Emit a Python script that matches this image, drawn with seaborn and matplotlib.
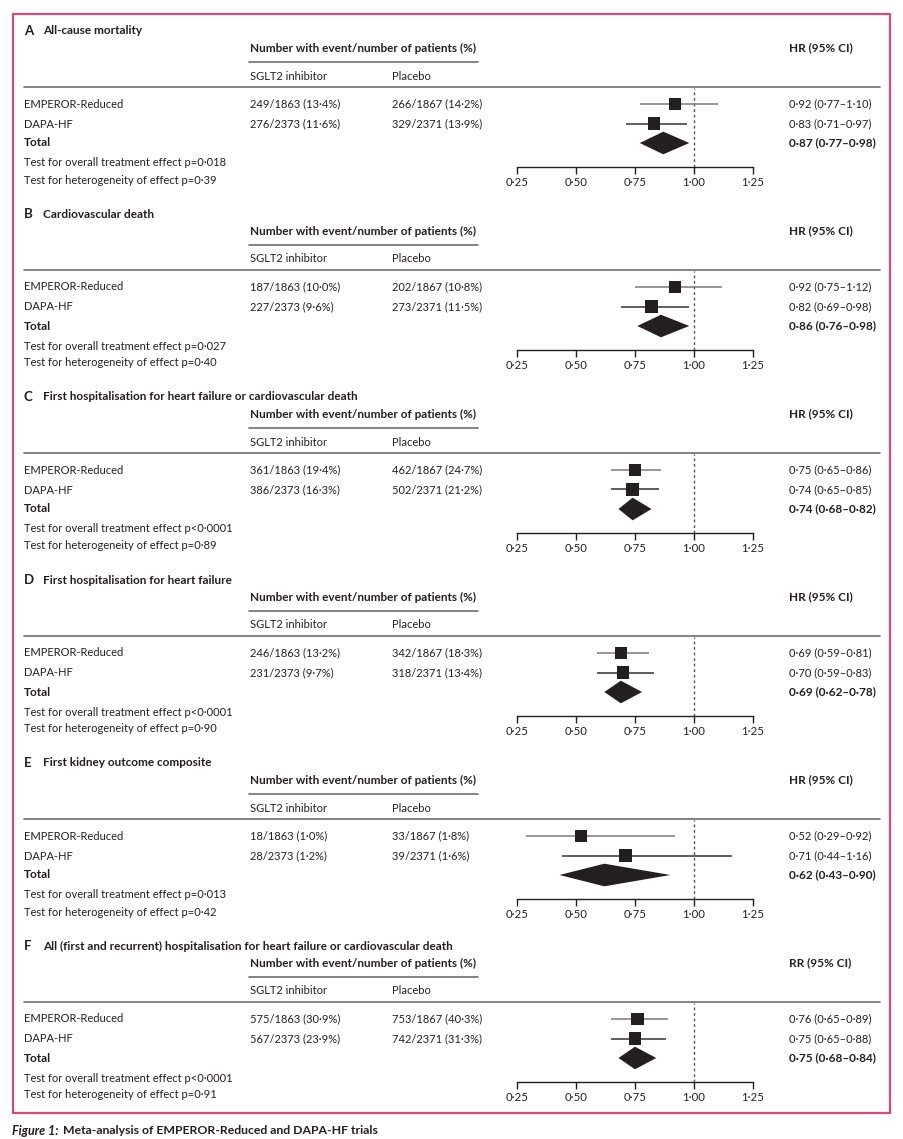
import matplotlib
matplotlib.use("Agg")
import matplotlib.pyplot as plt
import matplotlib.patches as mpatches
from matplotlib.ticker import FixedLocator, FixedFormatter
import seaborn as sns
import pandas as pd

# ---------------- data ----------------
panel_letters = ["A", "B", "C", "D", "E", "F"]
panel_titles = [
    "All-cause mortality",
    "Cardiovascular death",
    "First hospitalisation for heart failure or cardiovascular death",
    "First hospitalisation for heart failure",
    "First kidney outcome composite",
    "All (first and recurrent) hospitalisation for heart failure or cardiovascular death",
]
measure_labels = ["HR (95% CI)"] * 5 + ["RR (95% CI)"]
trials = ["EMPEROR-Reduced", "DAPA-HF"]

emperor_sglt2 = ["249/1863 (13·4%)", "187/1863 (10·0%)", "361/1863 (19·4%)",
                 "246/1863 (13·2%)", "18/1863 (1·0%)", "575/1863 (30·9%)"]
emperor_placebo = ["266/1867 (14·2%)", "202/1867 (10·8%)", "462/1867 (24·7%)",
                   "342/1867 (18·3%)", "33/1867 (1·8%)", "753/1867 (40·3%)"]
dapa_sglt2 = ["276/2373 (11·6%)", "227/2373 (9·6%)", "386/2373 (16·3%)",
              "231/2373 (9·7%)", "28/2373 (1·2%)", "567/2373 (23·9%)"]
dapa_placebo = ["329/2371 (13·9%)", "273/2371 (11·5%)", "502/2371 (21·2%)",
                "318/2371 (13·4%)", "39/2371 (1·6%)", "742/2371 (31·3%)"]

emperor_est = [0.92, 0.92, 0.75, 0.69, 0.52, 0.76]
emperor_lo = [0.77, 0.75, 0.65, 0.59, 0.29, 0.65]
emperor_hi = [1.10, 1.12, 0.86, 0.81, 0.92, 0.89]
dapa_est = [0.83, 0.82, 0.74, 0.70, 0.71, 0.75]
dapa_lo = [0.71, 0.69, 0.65, 0.59, 0.44, 0.65]
dapa_hi = [0.97, 0.98, 0.85, 0.83, 1.16, 0.88]
total_est = [0.87, 0.86, 0.74, 0.69, 0.62, 0.75]
total_lo = [0.77, 0.76, 0.68, 0.62, 0.43, 0.68]
total_hi = [0.98, 0.98, 0.82, 0.78, 0.90, 0.84]

p_overall = ["p=0·018", "p=0·027", "p<0·0001", "p<0·0001", "p=0·013", "p<0·0001"]
p_hetero = ["p=0·39", "p=0·40", "p=0·89", "p=0·90", "p=0·42", "p=0·91"]

tick_values = [0.25, 0.50, 0.75, 1.00, 1.25]
tick_labels = ["0·25", "0·50", "0·75", "1·00", "1·25"]

caption_lead = "Figure 1:"
caption_text = "Meta-analysis of EMPEROR-Reduced and DAPA-HF trials"


def fmt_ci(e, l, h):
    f = lambda v: f"{v:.2f}".replace(".", "·")
    return f"{f(e)} ({f(l)}–{f(h)})"


# ---------------- style ----------------
sns.set_theme(style="white")
plt.rcParams["font.family"] = ["Lato", "DejaVu Sans"]
TXT = "#231f20"
LINE = "#6d6e71"
FS = 8.0
FSB = 8.45

W, H = 904, 1139
fig = plt.figure(figsize=(W / 100, H / 100), dpi=100)


def fx(x):
    return x / W


def fy(y):
    return 1 - y / H


def t(x, y, s, **kw):
    if kw.get("fontweight") == "bold":
        kw.setdefault("fontsize", FSB)
    kw.setdefault("fontsize", FS)
    kw.setdefault("color", TXT)
    kw.setdefault("va", "center")
    kw.setdefault("ha", "left")
    fig.text(fx(x), fy(y), s, **kw)


def hline(x0, x1, y, color=LINE, lw=1.2):
    fig.add_artist(plt.Line2D([fx(x0), fx(x1)], [fy(y), fy(y)], color=color, lw=lw,
                              transform=fig.transFigure))


# border
fig.add_artist(mpatches.Rectangle((fx(13), fy(1113)), fx(890) - fx(13), fy(14) - fy(1113),
                                  transform=fig.transFigure, fill=False,
                                  edgecolor="#d8497a", lw=1.6))

STEP = 183
for k in range(6):
    oy = STEP * k
    t(24, 31 + oy, panel_letters[k], fontweight="bold", fontsize=9.5)
    t(43, 31 + oy, panel_titles[k], fontweight="bold")
    t(250, 48 + oy, "Number with event/number of patients (%)", fontweight="bold")
    t(789, 48 + oy, measure_labels[k], fontweight="bold")
    hline(249, 478, 62 + oy)
    t(250, 76 + oy, "SGLT2 inhibitor")
    t(392, 76 + oy, "Placebo")
    hline(24, 880, 87 + oy)

    rows_y = [104 + oy, 124 + oy, 143 + oy]
    t(24, rows_y[0], trials[0])
    t(24, rows_y[1], trials[1])
    t(24, rows_y[2], "Total", fontweight="bold")
    t(250, rows_y[0], emperor_sglt2[k])
    t(392, rows_y[0], emperor_placebo[k])
    t(250, rows_y[1], dapa_sglt2[k])
    t(392, rows_y[1], dapa_placebo[k])
    t(789, rows_y[0], fmt_ci(emperor_est[k], emperor_lo[k], emperor_hi[k]))
    t(789, rows_y[1], fmt_ci(dapa_est[k], dapa_lo[k], dapa_hi[k]))
    t(789, rows_y[2], fmt_ci(total_est[k], total_lo[k], total_hi[k]), fontweight="bold")
    t(24, 163 + oy, "Test for overall treatment effect " + p_overall[k])
    t(24, 180 + oy, "Test for heterogeneity of effect " + p_hetero[k])

    # forest axes
    top, bot = 88 + oy, 167 + oy
    ax = fig.add_axes([fx(517), fy(bot), fx(753) - fx(517), fy(top) - fy(bot)])
    ax.set_facecolor("none")
    ax.set_xlim(0.25, 1.25)
    step = 19.5
    ax.set_ylim((bot - rows_y[0]) / step, (top - rows_y[0]) / step)

    df = pd.DataFrame({
        "trial": trials,
        "est": [emperor_est[k], dapa_est[k]],
        "lo": [emperor_lo[k], dapa_lo[k]],
        "hi": [emperor_hi[k], dapa_hi[k]],
        "row": [0, 1],
    })
    ax.hlines(df["row"], df["lo"], df["hi"], color=["#7a7a7a", "#333333"], lw=1.1,
              clip_on=False, zorder=2)
    sns.scatterplot(data=df, x="est", y="row", marker="s", s=80, color="#231f20",
                    edgecolor="none", ax=ax, zorder=3, clip_on=False, legend=False)
    e, l, h = total_est[k], total_lo[k], total_hi[k]
    ax.fill([l, e, h, e], [2, 2 - 0.58, 2, 2 + 0.58], color="#231f20", lw=0, zorder=3,
            clip_on=False)
    ax.axvline(1.0, color="#555555", lw=1.0, ls=(0, (2, 2)), zorder=1)

    for s in ["top", "right", "left"]:
        ax.spines[s].set_visible(False)
    ax.spines["bottom"].set_color("#231f20")
    ax.spines["bottom"].set_linewidth(1.0)
    ax.set_yticks([])
    ax.xaxis.set_major_locator(FixedLocator(tick_values))
    ax.xaxis.set_major_formatter(FixedFormatter(tick_labels))
    ax.tick_params(axis="x", direction="out", length=5, width=1.0, color="#231f20",
                   labelsize=8.2, labelcolor=TXT, pad=2.5, bottom=True)
    ax.set_xlabel("")
    ax.set_ylabel("")
    ax.grid(False)

t(12, 1131, caption_lead, fontweight="bold", fontstyle="italic", fontsize=9.0)
t(63, 1131, caption_text, fontweight="bold", fontsize=8.8)

fig.savefig("out.png", dpi=100)
